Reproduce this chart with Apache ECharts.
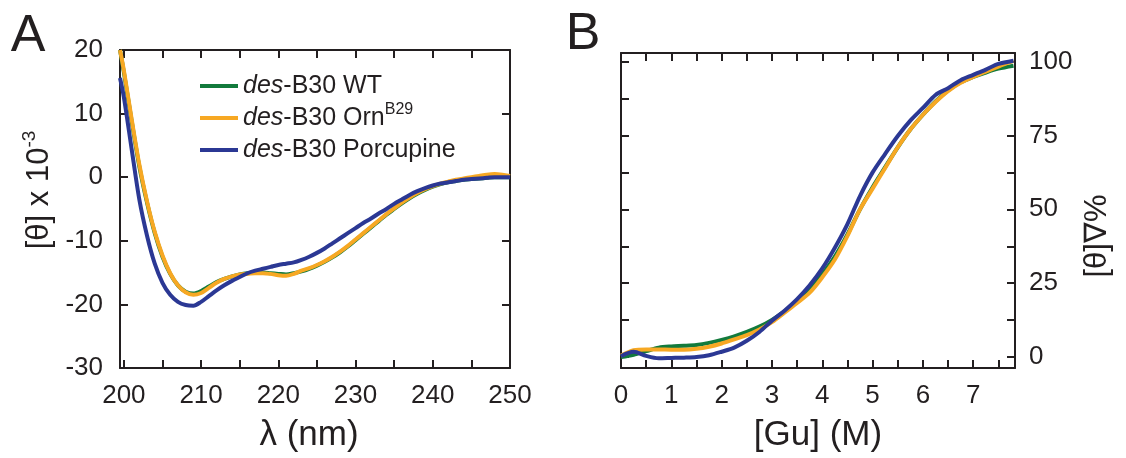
<!DOCTYPE html>
<html>
<head>
<meta charset="utf-8">
<script src="https://cdn.jsdelivr.net/npm/echarts@6/dist/echarts.min.js"></script>
<style>
html,body{margin:0;padding:0;background:#fff;}
#chart{width:1126px;height:458px;}
</style>
</head>
<body>
<div id="chart"></div>
<script>
// ---------- Panel A: CD spectra ----------
const lambda = [199.5,200,201,202,203,204,205,206,207,208,209,210,211,212,213,214,215,216,217,218,219,220,221,222,223,224,225,226,227,228,229,230,231,232,233,234,235,236,237,238,239,240,241,242,243,244,245,246,247,248,249,250];
const cdWT = [20,16.5,8.9,1.7,-4.0,-8.8,-12.5,-15.2,-17.0,-18.0,-18.3,-17.9,-17.2,-16.5,-16.0,-15.6,-15.3,-15.1,-15.0,-15.0,-15.1,-15.2,-15.3,-15.1,-14.8,-14.4,-13.9,-13.3,-12.6,-11.8,-10.9,-9.9,-8.9,-7.9,-6.9,-5.9,-5.0,-4.1,-3.3,-2.6,-2.0,-1.5,-1.1,-0.8,-0.6,-0.4,-0.3,-0.2,-0.1,0,0,0];
const cdOrn = [20,16.8,9.2,2.0,-3.8,-8.6,-12.3,-15.1,-17.0,-18.1,-18.5,-18.2,-17.4,-16.6,-16.0,-15.6,-15.3,-15.2,-15.1,-15.1,-15.2,-15.4,-15.5,-15.2,-14.7,-14.3,-13.8,-13.2,-12.5,-11.7,-10.8,-9.8,-8.8,-7.8,-6.8,-5.8,-4.9,-4.0,-3.2,-2.5,-1.9,-1.4,-1.0,-0.7,-0.4,-0.2,0,0.2,0.4,0.5,0.4,0.2];
const cdPorc = [15.6,12.6,4.5,-3.5,-9.2,-13.6,-16.6,-18.5,-19.6,-20.1,-20.2,-19.6,-18.7,-17.8,-17.0,-16.3,-15.7,-15.1,-14.7,-14.4,-14.1,-13.8,-13.6,-13.4,-13.0,-12.5,-11.9,-11.2,-10.4,-9.6,-8.8,-8.0,-7.2,-6.5,-5.7,-5.0,-4.2,-3.5,-2.8,-2.2,-1.7,-1.3,-1.0,-0.8,-0.6,-0.4,-0.3,-0.2,-0.1,0,0,0];
const xTicksA = [200,205,210,215,220,225,230,235,240,245,250];
const xLabelsA = [200,210,220,230,240,250];
const yTicksA = [-30,-20,-10,0,10,20];

// ---------- Panel B: GuHCl denaturation ----------
const gu = [0,0.25,0.5,0.75,1,1.25,1.5,1.75,2,2.25,2.5,2.75,3,3.25,3.5,3.75,4,4.25,4.5,4.75,5,5.25,5.5,5.75,6,6.25,6.5,6.75,7,7.25,7.5,7.8];
const denWT = [0,0.8,2.0,3.2,3.6,3.8,4.1,4.8,5.8,7.0,8.5,10.3,12.6,15.5,18.8,22.8,28,34,41.5,50,57.5,64.3,71,77,82,86.5,90.2,93,94.8,96.3,97.6,98.6];
const denOrn = [0.5,2.3,2.6,2.6,2.5,2.5,2.8,3.5,4.6,6.0,7.4,9.3,11.8,15,18.3,21.8,27,33,41,50,57,64,71,77,82,86.3,90,92.8,94.8,96.6,98.3,100.2];
const denPorc = [0.3,1.8,0.4,-0.4,-0.3,-0.2,0,0.6,1.8,3.2,5.5,8.5,12.3,15.7,19.6,24.3,30,37,45,54.5,62.5,68.8,74.8,80,84.3,88.7,91,93.7,95.5,97.3,99.2,100.3];
const xTicksB = [0,0.5,1,1.5,2,2.5,3,3.5,4,4.5,5,5.5,6,6.5,7,7.5];
const xLabelsB = [0,1,2,3,4,5,6,7];
const yTicksB = [0,12.5,25,37.5,50,62.5,75,87.5,100];
const yLabelsB = [0,25,50,75,100];

const names = ['des-B30 WT','des-B30 OrnB29','des-B30 Porcupine'];
const colors = ['#127a3c','#f7a823','#2b3894'];

const FONT = 'Liberation Sans, Arial, Helvetica, sans-serif';
const INK = '#231f20';

function axisBase(extra){
  return Object.assign({
    type:'value',
    splitLine:{show:false},
    axisLine:{show:true, onZero:false, lineStyle:{color:INK, width:2}},
    axisTick:{show:true, inside:true, length:8, lineStyle:{color:INK, width:2}},
    axisLabel:{show:false, color:INK, fontSize:26, fontFamily:FONT}
  }, extra);
}
function withTicks(ax, ticks, labels, margin){
  ax.axisTick.customValues = ticks;
  if(labels){
    ax.axisLabel.show = true;
    ax.axisLabel.customValues = labels;
    ax.axisLabel.margin = margin;
  }
  return ax;
}

const xAxis = [
  withTicks(axisBase({gridIndex:0, position:'bottom', min:199.5, max:250,
    name:'λ (nm)', nameLocation:'middle', nameGap:50,
    nameTextStyle:{fontSize:35, color:INK, fontFamily:FONT, padding:[0,12,0,0]}}), xTicksA, xLabelsA, 15),
  withTicks(axisBase({gridIndex:0, position:'top', min:199.5, max:250}), xTicksA, null),
  withTicks(axisBase({gridIndex:1, position:'bottom', min:0, max:7.83,
    name:'[Gu] (M)', nameLocation:'middle', nameGap:50,
    nameTextStyle:{fontSize:35, color:INK, fontFamily:FONT}}), xTicksB, xLabelsB, 15),
  withTicks(axisBase({gridIndex:1, position:'top', min:0, max:7.83}), xTicksB, null)
];
const yAxis = [
  withTicks(axisBase({gridIndex:0, position:'left', min:-30, max:20}), yTicksA, yTicksA, 17),
  withTicks(axisBase({gridIndex:0, position:'right', min:-30, max:20}), yTicksA, null),
  withTicks(axisBase({gridIndex:1, position:'right', min:-3.7, max:102.9}), yTicksB, yLabelsB, 14),
  withTicks(axisBase({gridIndex:1, position:'left', min:-3.7, max:102.9}), yTicksB, null)
];

function lineSeries(name, color, xs, ys, xi, yi){
  return {
    type:'line', name:name, xAxisIndex:xi, yAxisIndex:yi,
    data: xs.map((x,i)=>[x, ys[i]]),
    showSymbol:false, smooth:0.3, clip:true,
    lineStyle:{color:color, width:4},
    itemStyle:{color:color}
  };
}

const series = [
  lineSeries(names[0], colors[0], lambda, cdWT, 0, 0),
  lineSeries(names[1], colors[1], lambda, cdOrn, 0, 0),
  lineSeries(names[2], colors[2], lambda, cdPorc, 0, 0),
  lineSeries(names[0], colors[0], gu, denWT, 2, 2),
  lineSeries(names[1], colors[1], gu, denOrn, 2, 2),
  lineSeries(names[2], colors[2], gu, denPorc, 2, 2)
];

const option = {
  animation:false,
  backgroundColor:'#ffffff',
  textStyle:{fontFamily:FONT},
  grid:[
    {left:120, top:50, width:390, height:319},
    {left:621, top:53, width:394, height:316}
  ],
  xAxis:xAxis,
  yAxis:yAxis,
  legend:{
    data:names, orient:'vertical', left:200, top:70, padding:0,
    icon:'rect', itemWidth:38, itemHeight:4, itemGap:0,
    formatter:function(n){ return n.replace('des','{i|des}').replace('B29','{s|B29}'); },
    textStyle:{color:INK, fontSize:25, lineHeight:32, fontFamily:FONT,
      rich:{
        i:{fontStyle:'italic', fontSize:25, lineHeight:32, color:INK, fontFamily:FONT},
        s:{fontSize:16, lineHeight:16, padding:[0,0,16,0], color:INK, fontFamily:FONT}
      }}
  },
  graphic:[
    {type:'text', x:28, y:37, style:{text:'A', font:'52px '+FONT, fill:INK, textAlign:'center', textVerticalAlign:'middle'}},
    {type:'text', x:583, y:35, style:{text:'B', font:'52px '+FONT, fill:INK, textAlign:'center', textVerticalAlign:'middle'}},
    {type:'text', x:39, y:190, rotation:Math.PI/2,
      style:{text:'[θ] x 10{sup|-3}', font:'31px '+FONT, fill:INK, textAlign:'center', textVerticalAlign:'middle',
        rich:{sup:{fontSize:19, lineHeight:19, padding:[0,0,18,0], fill:INK, fontFamily:FONT}}}},
    {type:'text', x:1097, y:236, rotation:Math.PI/2,
      style:{text:'[θ]∇%', font:'31px '+FONT, fill:INK, textAlign:'center', textVerticalAlign:'middle'}}
  ],
  series:series
};

const chart = echarts.init(document.getElementById('chart'), null, {renderer:'canvas'});
chart.setOption(option);
</script>
</body>
</html>
